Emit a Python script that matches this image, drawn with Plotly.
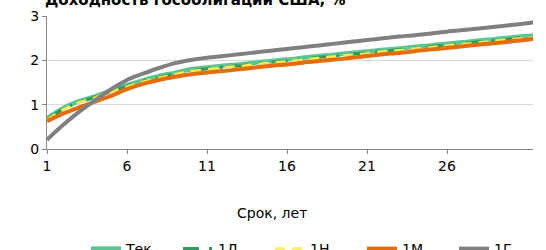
import plotly.graph_objects as go

years = list(range(1, 33))
tek = [0.69, 0.92, 1.08, 1.19, 1.32, 1.44, 1.55, 1.65, 1.72, 1.80, 1.84, 1.88, 1.91, 1.95, 1.99, 2.02,
       2.06, 2.10, 2.13, 2.17, 2.20, 2.24, 2.27, 2.31, 2.34, 2.38, 2.41, 2.45, 2.48, 2.52, 2.55, 2.59]
d1 = [0.67, 0.90, 1.06, 1.17, 1.30, 1.42, 1.53, 1.62, 1.70, 1.77, 1.81, 1.85, 1.88, 1.92, 1.96, 1.99,
      2.03, 2.07, 2.10, 2.14, 2.17, 2.21, 2.24, 2.28, 2.31, 2.35, 2.38, 2.42, 2.45, 2.49, 2.52, 2.56]
n1 = [0.66, 0.89, 1.05, 1.16, 1.29, 1.41, 1.52, 1.61, 1.69, 1.76, 1.80, 1.84, 1.87, 1.91, 1.95, 1.98,
      2.02, 2.06, 2.09, 2.13, 2.16, 2.20, 2.23, 2.27, 2.30, 2.34, 2.37, 2.41, 2.44, 2.48, 2.51, 2.55]
m1 = [0.63, 0.80, 0.94, 1.07, 1.20, 1.35, 1.47, 1.56, 1.63, 1.69, 1.73, 1.76, 1.80, 1.84, 1.88, 1.91,
      1.95, 1.99, 2.02, 2.06, 2.10, 2.14, 2.17, 2.21, 2.25, 2.28, 2.32, 2.36, 2.39, 2.43, 2.47, 2.50]
g1 = [0.21, 0.54, 0.84, 1.10, 1.35, 1.56, 1.70, 1.83, 1.94, 2.01, 2.06, 2.10, 2.14, 2.18, 2.22, 2.26,
      2.30, 2.34, 2.38, 2.42, 2.46, 2.50, 2.54, 2.57, 2.61, 2.65, 2.69, 2.72, 2.76, 2.80, 2.84, 2.88]

names = ["Тек.", "1Д", "1Н", "1М", "1Г"]
title_text = "Доходность гособлигаций США, %"
x_title = "Срок, лет"
x_ticks = [1, 6, 11, 16, 21, 26]
y_ticks = [0, 1, 2, 3]

FONT = "DejaVu Sans"
W, H = 546, 250
PL, PR, PT, PB = 47, 533, 16, 149  # plot area edges in pixels
PH = PB - PT

fig = go.Figure()
styles = [
    (tek, dict(color="#5CC593", width=4.5)),
    (d1, dict(color="#2E9A5E", width=3, dash="16px,10px,3px,10px")),
    (n1, dict(color="#FFE94D", width=2.5, dash="10px,7px")),
    (m1, dict(color="#E56C0A", width=4)),
    (g1, dict(color="#808080", width=4)),
]
for name, (vals, line) in zip(names, styles):
    fig.add_trace(go.Scatter(x=years, y=vals, name=name, mode="lines",
                             line=dict(shape="spline", smoothing=0.8, **line)))

fig.update_layout(
    width=W, height=H,
    margin=dict(l=PL, r=W - PR, t=PT, b=H - PB, autoexpand=False),
    paper_bgcolor="white", plot_bgcolor="white",
    font=dict(family=FONT, size=14, color="#000000"),
    showlegend=True,
    legend=dict(orientation="h", xref="container", yref="container",
                x=86 / W, xanchor="left", y=1 - 233 / H, yanchor="top",
                font=dict(family=FONT, size=14), bgcolor="rgba(0,0,0,0)",
                entrywidth=47, entrywidthmode="pixels", tracegroupgap=0),
    xaxis=dict(range=[1, 31.375], tickmode="array", tickvals=x_ticks, ticktext=[str(t) for t in x_ticks],
               showgrid=False, zeroline=False, showline=True, linecolor="#868686", linewidth=1,
               ticks="outside", ticklen=4, tickcolor="#868686", tickfont=dict(size=14), fixedrange=True),
    yaxis=dict(range=[0, 3.004], tickmode="array", tickvals=y_ticks, showgrid=True, gridcolor="#D9D9D9",
               gridwidth=1, zeroline=False, showline=True, linecolor="#868686", linewidth=1,
               ticks="outside", ticklen=4, tickcolor="#868686", tickfont=dict(size=14), fixedrange=True,
               ticklabeloverflow="allow"),
    annotations=[
        dict(text=x_title, xref="paper", yref="paper", x=(272 - PL) / (PR - PL), y=(PB - 213) / PH,
             xanchor="center", yanchor="middle", showarrow=False, font=dict(family=FONT, size=14)),
        dict(text="<b>" + title_text + "</b>", xref="paper", yref="paper", x=(195 - PL) / (PR - PL),
             y=(PB - 0) / PH, xanchor="center", yanchor="middle", showarrow=False,
             font=dict(family=FONT, size=15, color="#000")),
    ],
)

fig.write_html("out.html", config={"displayModeBar": False},
               post_script="document.body.style.margin='0';")
